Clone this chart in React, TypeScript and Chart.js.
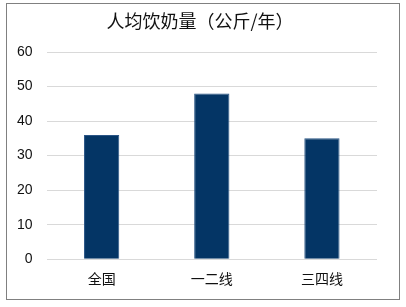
import React, { useEffect, useRef } from "react";
import { Chart, registerables } from "chart.js";

Chart.register(...registerables);

const categories = ["全国", "一二线", "三四线"];
const values = [36, 48, 35];
const titleText = "人均饮奶量（公斤/年）";
const yMin = 0;
const yMax = 60;
const yStep = 10;

const titlePlugin = {
  id: "customTitle",
  afterDraw(chart: any) {
    const c = chart.ctx;
    c.save();
    c.font = "18px 'Noto Sans CJK SC'";
    c.fillStyle = "#111";
    c.textAlign = "center";
    c.textBaseline = "middle";
    c.fillText(titleText, 200, 21);
    c.restore();
  },
};

export default function App() {
  const ref = useRef<HTMLCanvasElement | null>(null);
  useEffect(() => {
    document.body.style.margin = "0";
    const ctx = ref.current!;
    const chart = new Chart(ctx, {
      type: "bar",
      data: {
        labels: categories,
        datasets: [
          {
            data: values,
            backgroundColor: "#043565",
            borderColor: "#2a5586",
            borderWidth: 1,
            barPercentage: 0.32,
            categoryPercentage: 1,
          },
        ],
      },
      options: {
        animation: false,
        responsive: false,
        maintainAspectRatio: false,
        layout: { padding: { left: 3, right: 29, top: 52, bottom: 17 } },
        plugins: {
          legend: { display: false },
          tooltip: { enabled: false },
          title: { display: false },
        },
        scales: {
          x: {
            grid: { display: false },
            border: { display: false },
            ticks: {
              color: "#111",
              padding: 3,
              font: { family: "'Noto Sans CJK SC'", size: 14 },
            },
          },
          y: {
            min: yMin,
            max: yMax,
            grid: { color: "#d9d9d9", lineWidth: 1, drawTicks: false },
            border: { display: false },
            ticks: {
              stepSize: yStep,
              color: "#111",
              padding: 14,
              font: { family: "'Liberation Sans', Arial", size: 14 },
            },
          },
        },
      },
      plugins: [titlePlugin],
    });
    return () => chart.destroy();
  }, []);
  return (
    <div style={{ position: "fixed", left: 0, top: 0, width: 406, height: 307, background: "#fff" }}>
      <canvas ref={ref} width={406} height={307} style={{ position: "absolute", left: 0, top: 0 }} />
      <div
        style={{
          position: "absolute",
          left: 6,
          top: 3,
          width: 392,
          height: 295,
          border: "1px solid #808080",
          pointerEvents: "none",
        }}
      />
    </div>
  );
}
